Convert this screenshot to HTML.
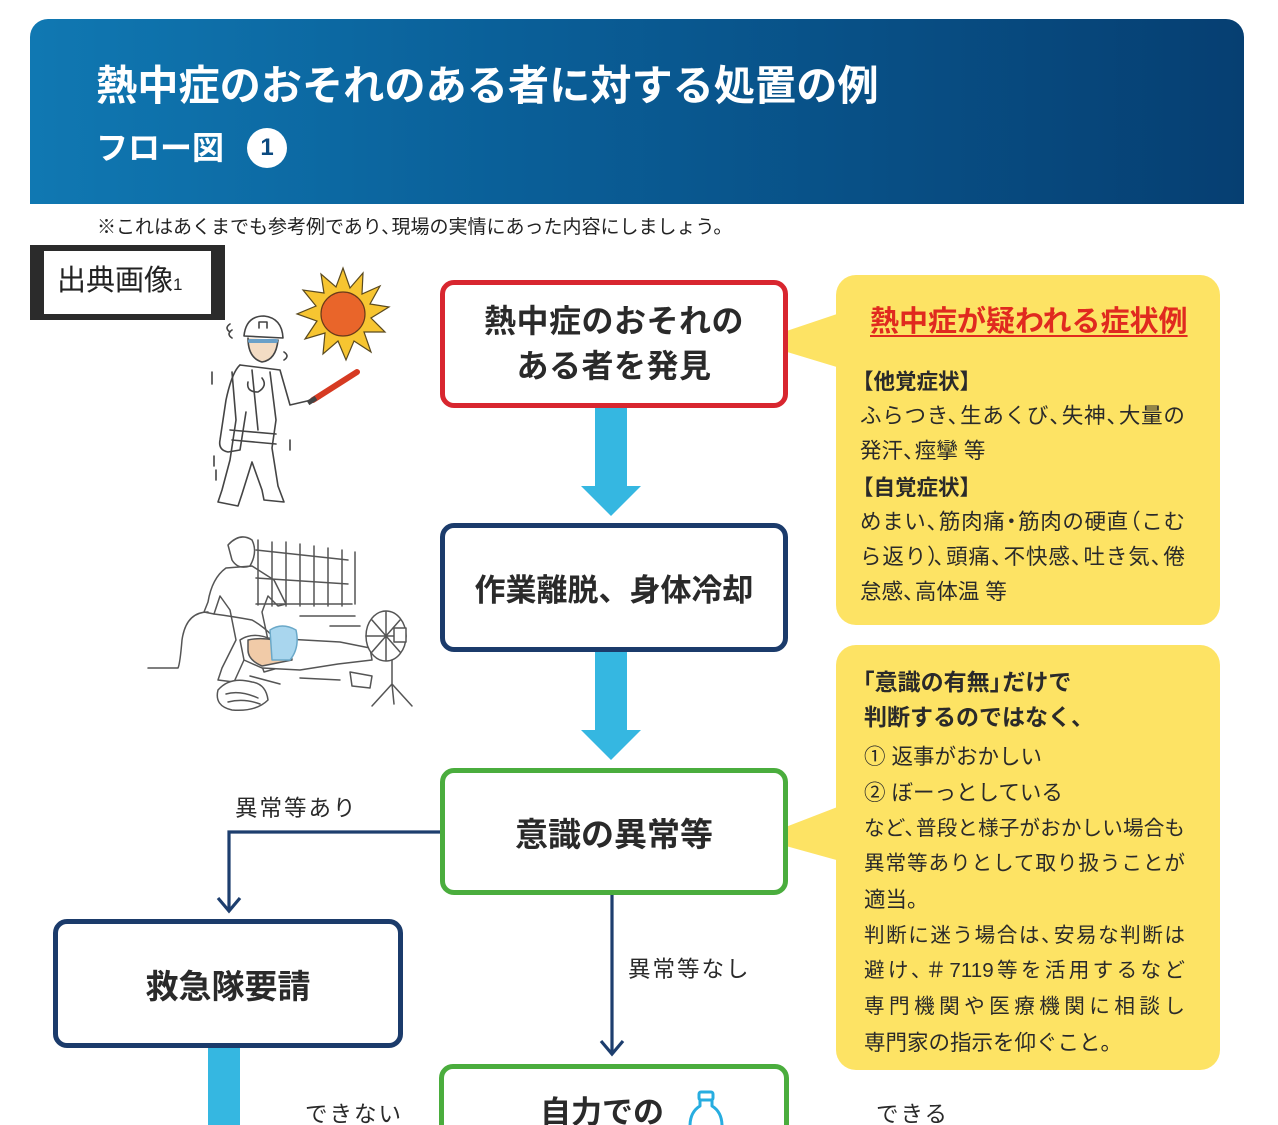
<!DOCTYPE html>
<html lang="ja">
<head>
<meta charset="utf-8">
<style>
  html,body{margin:0;padding:0;background:#fff;width:1278px;height:1125px;overflow:hidden;}
  body{font-family:"Liberation Sans","Noto Sans CJK JP",sans-serif;color:#222;}
  #wrap{position:relative;width:1278px;height:1125px;overflow:hidden;}
  .abs{position:absolute;}
  .hdr{left:30px;top:19px;width:1214px;height:185px;border-radius:18px 18px 0 0;
       background:linear-gradient(90deg,#1078b2 0%,#0a5f98 40%,#063f72 100%);}
  .title{left:96px;top:61px;font-size:41.2px;font-weight:bold;color:#fff;line-height:50px;white-space:nowrap;}
  .sub{left:96px;top:126px;font-size:32px;font-weight:bold;color:#fff;line-height:44px;white-space:nowrap;}
  .circ{left:247px;top:128px;width:40px;height:40px;border-radius:50%;background:#fff;color:#0b4a80;
        font-size:24px;font-weight:bold;text-align:center;line-height:40px;}
  .note{left:97px;top:215px;font-size:19px;line-height:26px;white-space:nowrap;color:#222;}
  .src{left:30px;top:245px;width:167px;height:63px;border-style:solid;border-color:#2b2b2b;
       border-width:6px 14px 6px 14px;background:#fff;}
  .src span{position:absolute;left:13px;top:10px;font-size:29px;line-height:40px;white-space:nowrap;color:#222;}
  .src small{font-size:17px;}
  .box{box-sizing:border-box;border:5px solid;border-radius:14px;background:#fff;
       display:flex;align-items:center;justify-content:center;text-align:center;
       font-weight:bold;color:#2a2a2a;}
  .red{border-color:#d8262f;}
  .navy{border-color:#1b3b6b;}
  .green{border-color:#4aad3d;}
  .yel{background:#fde364;border-radius:20px;}
  .ln{white-space:nowrap;font-size:21.5px;line-height:30px;color:#2a2a2a;}
  .j1{width:325px;text-align:justify;text-align-last:justify;}
  .j2{width:321px;text-align:justify;text-align-last:justify;font-size:20.6px;}
  .c{margin-right:-0.45em;}
  .cp{margin-right:-0.25em;}
  .cl{margin-left:-0.45em;}
  .cm{margin-left:-0.22em;margin-right:-0.22em;}
  .lbl{white-space:nowrap;font-size:22.5px;line-height:30px;color:#2a2a2a;letter-spacing:2px;}
</style>
</head>
<body>
<div id="wrap">

<!-- header -->
<div class="abs hdr"></div>
<div class="abs title">熱中症のおそれのある者に対する処置の例</div>
<div class="abs sub">フロー図</div>
<div class="abs circ">1</div>
<div class="abs note">※これはあくまでも参考例であり<span class="c">、</span>現場の実情にあった内容にしましょう。</div>

<!-- source label -->
<div class="abs src"><span>出典画像<small>1</small></span></div>

<!-- graphics -->
<svg class="abs" style="left:0;top:0" width="1278" height="1125" viewBox="0 0 1278 1125">
  <!-- yellow callout pointers -->
  <polygon points="840,313 754,342 840,368" fill="#fde364"/>
  <polygon points="840,806 757,838 840,861" fill="#fde364"/>

  <!-- blue flow arrows -->
  <g fill="#35b7e1">
    <rect x="595" y="406" width="32" height="82"/>
    <polygon points="581,486 641,486 611,516"/>
    <rect x="595" y="650" width="32" height="82"/>
    <polygon points="581,730 641,730 611,760"/>
    <rect x="208" y="1046" width="32" height="80"/>
  </g>

  <!-- navy branch lines -->
  <g fill="none" stroke="#1d3e6e" stroke-width="3.2">
    <path d="M440 832 H229 V910"/>
    <path d="M218 898 L229 911 L240 898"/>
    <path d="M612 893 V1053"/>
    <path d="M601 1041 L612 1054 L623 1041"/>
  </g>

  <!-- sun -->
  <g transform="translate(343,314)">
    <polygon fill="#f7c531" stroke="#5a4a20" stroke-width="1.2"
      points="0,-46 7,-26 20,-41 19,-20 37,-28 27,-10 46,-7 28,4 42,18 21,18 28,38 11,27 3,46 -5,27 -20,40 -18,19 -38,25 -26,7 -46,0 -27,-8 -40,-24 -19,-21 -22,-40 -7,-27"/>
    <circle r="22" fill="#e9652a" stroke="#6a3a1a" stroke-width="1.2"/>
  </g>

  <!-- worker figure 1 -->
  <g fill="none" stroke="#444" stroke-width="1.6" stroke-linecap="round" stroke-linejoin="round">
    <path d="M244 336 Q246 316 264 316 Q282 318 283 338 Z" fill="#fff"/>
    <path d="M259 322 v6 M259 322 h8 v6"/>
    <path d="M248 338 Q248 358 262 362 Q276 360 278 340" fill="#f3dcc4"/>
    <path d="M250 341 h26" stroke="#6aa0c8" stroke-width="4"/>
    <path d="M240 365 Q232 372 226 400 L220 440 Q218 450 228 452 L240 450 L246 412"/>
    <path d="M240 365 L280 370 L290 405 L320 398"/>
    <path d="M232 372 L236 420 L230 460 L222 490 L218 502 L238 506 L242 494 L252 462 L262 490 L264 500 L284 502 L278 486 L272 448 L276 420 L270 372"/>
    <path d="M230 430 L276 434"/>
    <path d="M232 440 L276 444"/>
    <path d="M252 370 L258 430"/>
    <path d="M262 378 Q268 386 258 392 Q246 392 248 382"/>
    <path d="M230 324 q-6 4 0 8 M232 330 q-6 4 0 8 M284 352 q6 4 0 8"/>
    <path d="M212 372 v12 M214 456 v10 M216 470 v10 M290 440 v10"/>
  </g>
  <path d="M313 400 L357 372" stroke="#d63a22" stroke-width="6" stroke-linecap="round"/>
  <path d="M308 403 L316 398" stroke="#444" stroke-width="5"/>

  <!-- illustration 2 -->
  <g fill="none" stroke="#555" stroke-width="1.5" stroke-linecap="round" stroke-linejoin="round">
    <path d="M258 540 V605 M272 542 V606 M286 542 V606 M300 544 V606 M314 546 V606 M328 548 V606 M342 550 V606 M355 552 V604"/>
    <path d="M256 550 L348 560 M256 578 L348 584 M256 604 L352 604"/>
    <path d="M300 616 H355 M330 626 H360"/>
    <path d="M228 545 Q240 532 252 540 Q258 552 250 566 Q238 570 232 560 Z" fill="#fff"/>
    <path d="M226 568 Q212 578 208 602 L204 612 L214 614 L220 596 L230 610 L236 640 L222 668 L218 680 L234 682 L244 660 L250 640 L260 660 L264 672 L278 668 L268 640 L262 612 L268 596 L278 606 L286 604 L274 580 L252 566 Z"/>
    <path d="M208 612 Q186 612 182 640 Q180 664 178 668 L148 668"/>
    <path d="M214 614 Q230 616 252 620 Q266 628 276 640"/>
    <path d="M240 640 Q252 632 268 638 L340 642 L370 648 L372 660 L338 664 L300 670 L262 668 L244 660 Z" fill="#fff"/>
    <path d="M248 640 Q266 636 290 644 L292 660 L262 666 Q248 660 248 650 Z" fill="#f1cba8"/>
    <path d="M270 630 Q282 622 296 630 Q300 648 290 660 L272 660 Z" fill="#a9d6ee" stroke="#6aa8c8"/>
    <path d="M250 676 L280 684 M300 678 L340 680"/>
    <ellipse cx="386" cy="636" rx="20" ry="25" fill="#fff"/>
    <path d="M386 612 V660 M366 636 H406 M372 620 L400 652 M400 620 L372 652"/>
    <rect x="394" y="628" width="12" height="14" fill="#fff"/>
    <path d="M392 660 V684 M392 684 L372 706 M392 684 L412 706 M392 684 L394 704"/>
    <path d="M218 690 Q230 676 252 682 Q266 684 268 700 Q256 712 232 710 Q214 706 218 690 Z" fill="#fff"/>
    <path d="M226 694 Q240 690 258 698 M228 702 Q244 698 260 704"/>
    <path d="M350 672 L372 676 L370 688 L352 686 Z" fill="#fff"/>
  </g>
</svg>

<!-- flow boxes -->
<div class="abs box red" style="left:440px;top:280px;width:348px;height:128px;font-size:32px;line-height:45px;letter-spacing:0.5px;">熱中症のおそれの<br>ある者を発見</div>
<div class="abs box navy" style="left:440px;top:523px;width:348px;height:129px;font-size:31px;">作業離脱、身体冷却</div>
<div class="abs box green" style="left:440px;top:768px;width:348px;height:127px;font-size:33px;">意識の異常等</div>
<div class="abs box navy" style="left:53px;top:919px;width:350px;height:129px;font-size:33px;">救急隊要請</div>
<div class="abs box green" style="left:439px;top:1064px;width:350px;height:80px;font-size:31px;">
  <span style="position:absolute;left:96px;top:24px;line-height:40px;">自力での</span>
</div>

<!-- bottle icon (above box) -->
<svg class="abs" style="left:680px;top:1085px" width="60" height="45" viewBox="680 1085 60 45">
  <g fill="none" stroke="#27ade0" stroke-width="3" stroke-linejoin="round">
    <rect x="699" y="1092" width="14" height="8" rx="2"/>
    <path d="M700 1100 V1106 Q690 1112 690 1126 M712 1100 V1106 Q722 1112 722 1126"/>
  </g>
</svg>

<!-- branch labels -->
<div class="abs lbl" style="left:235px;top:794px;">異常等あり</div>
<div class="abs lbl" style="left:628px;top:955px;">異常等なし</div>
<div class="abs lbl" style="left:305px;top:1100px;">できない</div>
<div class="abs lbl" style="left:876px;top:1100px;">できる</div>

<!-- yellow box 1 -->
<div class="abs yel" style="left:836px;top:275px;width:384px;height:350px;"></div>
<div class="abs" style="left:870px;top:304px;font-size:29px;line-height:36px;font-weight:bold;color:#e02a1f;text-decoration:underline;text-decoration-thickness:2px;text-underline-offset:4px;white-space:nowrap;">熱中症が疑われる症状例</div>
<div class="abs ln" style="left:852px;top:367px;font-weight:bold;">【他覚症状】</div>
<div class="abs ln j1" style="left:860px;top:401px;">ふらつき<span class="c">、</span>生あくび<span class="c">、</span>失神<span class="c">、</span>大量の</div>
<div class="abs ln" style="left:860px;top:436px;">発汗<span class="c">、</span>痙攣 等</div>
<div class="abs ln" style="left:852px;top:473px;font-weight:bold;">【自覚症状】</div>
<div class="abs ln j1" style="left:860px;top:507px;">めまい<span class="c">、</span>筋肉痛<span class="cm">・</span>筋肉の硬直<span class="cl">（</span>こむ</div>
<div class="abs ln j1" style="left:860px;top:542px;">ら返り<span class="cp">）</span><span class="c">、</span>頭痛<span class="c">、</span>不快感<span class="c">、</span>吐き気<span class="c">、</span>倦</div>
<div class="abs ln" style="left:860px;top:577px;">怠感<span class="c">、</span>高体温 等</div>

<!-- yellow box 2 -->
<div class="abs yel" style="left:836px;top:645px;width:384px;height:425px;"></div>
<div class="abs ln" style="left:862px;top:667px;font-weight:bold;font-size:23px;"><span class="cl">「</span>意識の有無<span class="c">」</span>だけで</div>
<div class="abs ln" style="left:864px;top:702px;font-weight:bold;font-size:23px;">判断するのではなく<span class="c">、</span></div>
<div class="abs ln" style="left:864px;top:742px;">①&nbsp;返事がおかしい</div>
<div class="abs ln" style="left:864px;top:778px;">②&nbsp;ぼーっとしている</div>
<div class="abs ln j2" style="left:864px;top:814px;">など<span class="c">、</span>普段と様子がおかしい場合も</div>
<div class="abs ln j2" style="left:864px;top:849px;">異常等ありとして取り扱うことが</div>
<div class="abs ln" style="left:864px;top:885px;">適当。</div>
<div class="abs ln j2" style="left:864px;top:921px;">判断に迷う場合は<span class="c">、</span>安易な判断は</div>
<div class="abs ln j2" style="left:864px;top:956px;">避け<span class="c">、</span>＃7119等を活用するなど</div>
<div class="abs ln j2" style="left:864px;top:992px;">専門機関や医療機関に相談し</div>
<div class="abs ln" style="left:864px;top:1028px;">専門家の指示を仰ぐこと。</div>

</div>
</body>
</html>
